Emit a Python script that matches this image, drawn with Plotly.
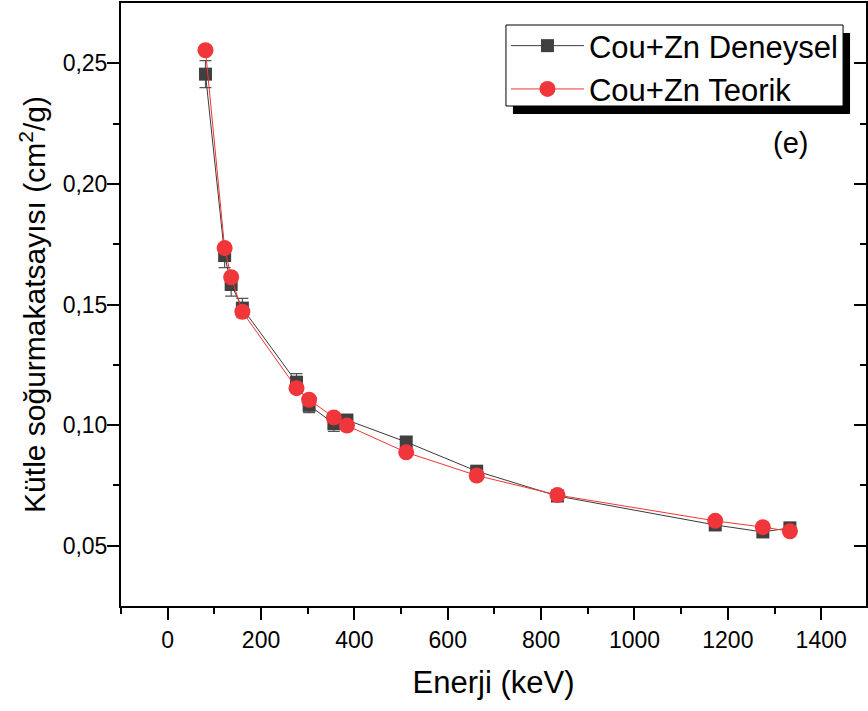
import plotly.graph_objects as go

energy = [81, 122, 136, 160, 276, 303, 356, 384, 511, 662, 835, 1173, 1275, 1333]
deneysel = [0.2455, 0.1703, 0.1583, 0.1485, 0.1178, 0.1082, 0.1006, 0.1021, 0.0930, 0.0809, 0.0706, 0.0586, 0.0557, 0.0574]
deneysel_err = [0.0056, 0.0050, 0.0048, 0.0040, 0.0035, 0.0030, 0.0032, 0.0020, 0.0020, 0.0015, 0.0012, 0.0012, 0.0012, 0.0012]
teorik = [0.2554, 0.1734, 0.1613, 0.1470, 0.1153, 0.1105, 0.1032, 0.0998, 0.0887, 0.0791, 0.0710, 0.0603, 0.0577, 0.0560]
teorik_err = [0.0006] * len(energy)

FONT = "Arial, 'Liberation Sans', sans-serif"
W, H = 868, 711
L, R, T, B = 121, 0, 3, 105

fig = go.Figure()
fig.add_trace(go.Scatter(
    x=energy, y=deneysel, mode="lines+markers", name="Cou+Zn Deneysel",
    line=dict(color="#3a3a3a", width=1),
    marker=dict(symbol="square", size=13, color="#404040"),
    error_y=dict(type="data", array=deneysel_err, visible=True, color="#555555", thickness=1.2, width=6),
))
fig.add_trace(go.Scatter(
    x=energy, y=teorik, mode="lines+markers", name="Cou+Zn Teorik",
    line=dict(color="#f03535", width=1),
    marker=dict(symbol="circle", size=16, color="#f0363a"),
    error_y=dict(type="data", array=teorik_err, visible=True, color="#7a3030", thickness=1, width=6),
))

pw = W - L - R
ph = H - T - B
def px_x(x):
    return (x - L) / pw
def px_y(y):
    return (H - B - y) / ph

# legend shadow and box
fig.add_shape(type="rect", xref="paper", yref="paper",
              x0=px_x(514), x1=px_x(852), y0=px_y(114), y1=px_y(33),
              fillcolor="black", line=dict(width=0), layer="above")
fig.add_shape(type="rect", xref="paper", yref="paper",
              x0=px_x(507), x1=px_x(845), y0=px_y(106), y1=px_y(25),
              fillcolor="white", line=dict(width=1, color="black"), layer="above")

fig.add_annotation(text="(e)", xref="paper", yref="paper",
                   x=px_x(792), y=px_y(143), xanchor="center", yanchor="middle",
                   showarrow=False,
                   font=dict(family=FONT, size=29, color="black"))

fig.update_layout(
    width=W, height=H,
    margin=dict(l=L, r=R, t=T, b=B),
    paper_bgcolor="white", plot_bgcolor="white",
    separators=",.",
    font=dict(family=FONT, color="black"),
    showlegend=True,
    legend=dict(x=px_x(507), y=px_y(19), xanchor="left", yanchor="top",
                bgcolor="rgba(0,0,0,0)", borderwidth=0,
                font=dict(family=FONT, size=31, color="black"),
                itemwidth=73, tracegroupgap=0),
    xaxis=dict(range=[-100, 1496], tickmode="array",
               tickvals=[0, 200, 400, 600, 800, 1000, 1200, 1400],
               ticks="outside", ticklen=12, tickwidth=2, tickcolor="black",
               minor=dict(tickvals=[-100, 100, 300, 500, 700, 900, 1100, 1300], ticks="outside", ticklen=6, tickwidth=2, tickcolor="black"),
               showline=True, linecolor="black", linewidth=2, mirror=True,
               showgrid=False, zeroline=False,
               tickfont=dict(family=FONT, size=23),
               title=dict(text="Enerji (keV)", font=dict(family=FONT, size=31), standoff=20)),
    yaxis=dict(range=[0.025, 0.275], tickmode="array",
               tickvals=[0.05, 0.10, 0.15, 0.20, 0.25], tickformat=".2f",
               ticks="outside", ticklen=12, tickwidth=2, tickcolor="black",
               ticklabelstandoff=-5,
               minor=dict(tickvals=[0.075, 0.125, 0.175, 0.225], ticks="outside", ticklen=6, tickwidth=2, tickcolor="black"),
               showline=True, linecolor="black", linewidth=2, mirror=True,
               showgrid=False, zeroline=False,
               tickfont=dict(family=FONT, size=23),
               title=dict(text="Kütle soğurmakatsayısı (cm<sup>2</sup>/g)", font=dict(family=FONT, size=30), standoff=8)),
    yaxis2=dict(range=[0.025, 0.275], overlaying="y", side="right", anchor="x",
                tickmode="array", tickvals=[0.05, 0.10, 0.15, 0.20, 0.25],
                ticks="inside", ticklen=12, tickwidth=2, tickcolor="black",
                minor=dict(tickvals=[0.075, 0.125, 0.175, 0.225], ticks="inside", ticklen=6, tickwidth=2, tickcolor="black"),
                showticklabels=False, showgrid=False, zeroline=False, showline=False),
)
fig.add_trace(go.Scatter(x=[None], y=[None], yaxis="y2", showlegend=False, hoverinfo="skip"))

fig.write_html("out.html", config={"displayModeBar": False},
               post_script="document.body.style.margin='0px';document.body.style.overflow='hidden';")
